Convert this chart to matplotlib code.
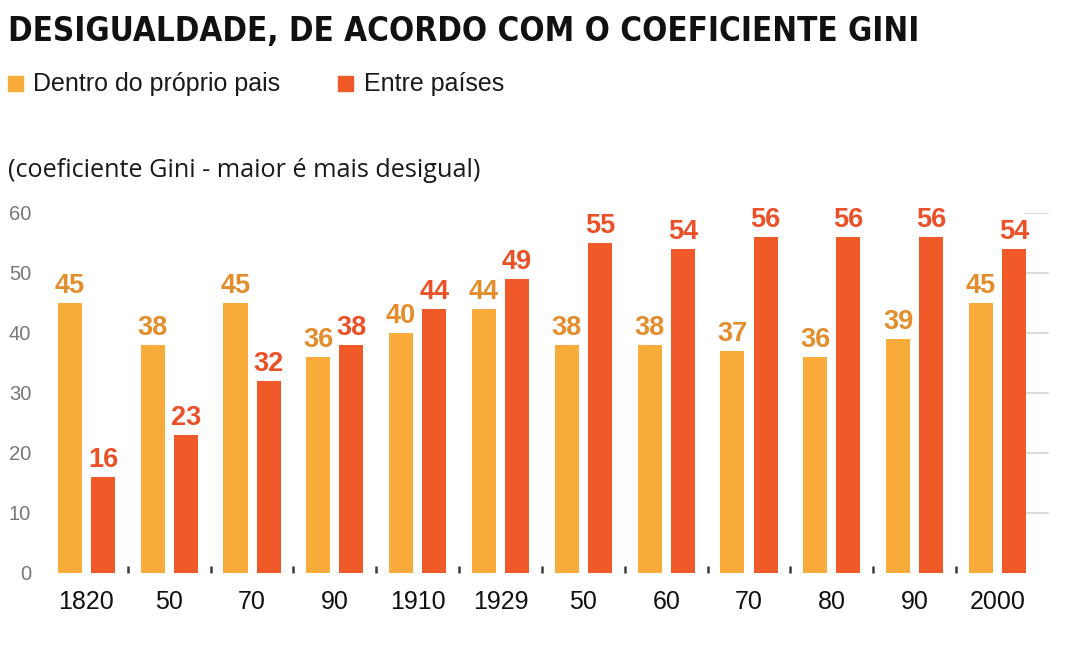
import numpy as np
import matplotlib
matplotlib.use('Agg')
import matplotlib.pyplot as plt
from matplotlib import font_manager

# data
years = ['1820', '50', '70', '90', '1910', '1929', '50', '60', '70', '80', '90', '2000']
dentro = [45, 38, 45, 36, 40, 44, 38, 38, 37, 36, 39, 45]
entre = [16, 23, 32, 38, 44, 49, 55, 54, 56, 56, 56, 54]
yticks = [0, 10, 20, 30, 40, 50, 60]

c_dentro = '#F9AB3C'
c_entre = '#EF5A28'
c_dentro_txt = '#E38D2C'
c_entre_txt = '#EA5128'

# look for a condensed bold face for the title
title_font = 'Liberation Sans'
for f in font_manager.fontManager.ttflist:
    if ('Condensed' in f.name or 'Narrow' in f.name or f.stretch in ('condensed', 'semi-condensed', 'extra-condensed')) and f.weight in ('bold', 700, 800, 900):
        title_font = f.name
        break

plt.rcParams['font.family'] = ['Liberation Sans', 'DejaVu Sans']

fig = plt.figure(figsize=(10.86, 6.52), dpi=100)
ax = fig.add_axes([45/1086, 1-573/652, 1005/1086, 360/652])

x = np.arange(len(years))
w = 0.29
off = 0.2
ax.bar(x-off, dentro, w, color=c_dentro, zorder=2)
ax.bar(x+off, entre, w, color=c_entre, zorder=2)

for xi, v in zip(x, dentro):
    ax.annotate(str(v), (xi-off, v), xytext=(0, 3), textcoords='offset points',
                ha='center', va='bottom', fontsize=19.5, fontweight='bold', color=c_dentro_txt)
for xi, v in zip(x, entre):
    ax.annotate(str(v), (xi+off, v), xytext=(0, 3), textcoords='offset points',
                ha='center', va='bottom', fontsize=19.5, fontweight='bold', color=c_entre_txt)

# short grid stubs on the right
for t in yticks[1:]:
    ax.axhline(t, xmin=0.975, xmax=0.998, color='#d4d4d4', lw=1.2, zorder=1)

ax.set_xlim(-0.5, 11.634)
ax.set_ylim(0, 60)
ax.set_yticks(yticks)
ax.set_yticklabels([str(t) for t in yticks], fontsize=14.5, color='#777777')
ax.set_xticks(x)
ax.set_xticklabels(years, fontsize=18, color='#111111')
ax.set_xticks(x[:-1]+0.5, minor=True)
ax.tick_params(axis='y', length=0, pad=10)
ax.tick_params(axis='x', which='major', length=0, pad=12)
ax.tick_params(axis='x', which='minor', direction='in', length=5, width=1.8, color='#3a3a3a')
for s in ax.spines.values():
    s.set_visible(False)

renderer = fig.canvas.get_renderer()


def fit_text(t, width_px):
    bb = t.get_window_extent(renderer)
    t.set_fontsize(t.get_fontsize() * width_px / bb.width)


title = fig.text(8/1086, 1-31/652, 'DESIGUALDADE, DE ACORDO COM O COEFICIENTE GINI',
                 fontsize=29, fontweight='bold', family=title_font, fontstretch='condensed',
                 va='center', ha='left', color='#111111')
fit_text(title, 912)

fig.patches.append(plt.Rectangle((8/1086, 1-91/652), 15/1086, 15/652,
                                 transform=fig.transFigure, color=c_dentro))
leg1 = fig.text(33/1086, 1-84/652, 'Dentro do próprio pais', fontsize=17, va='center', color='#1a1a1a')
fit_text(leg1, 248)
fig.patches.append(plt.Rectangle((338/1086, 1-91/652), 15/1086, 15/652,
                                 transform=fig.transFigure, color=c_entre))
leg2 = fig.text(364/1086, 1-84/652, 'Entre países', fontsize=leg1.get_fontsize(), va='center', color='#1a1a1a')

sub = fig.text(8/1086, 1-171/652, '(coeficiente Gini - maior é mais desigual)', fontsize=17,
               family=['Open Sans', 'DejaVu Sans'], va='center', color='#1a1a1a')
fit_text(sub, 475)

plt.savefig('out.png', dpi=100)
